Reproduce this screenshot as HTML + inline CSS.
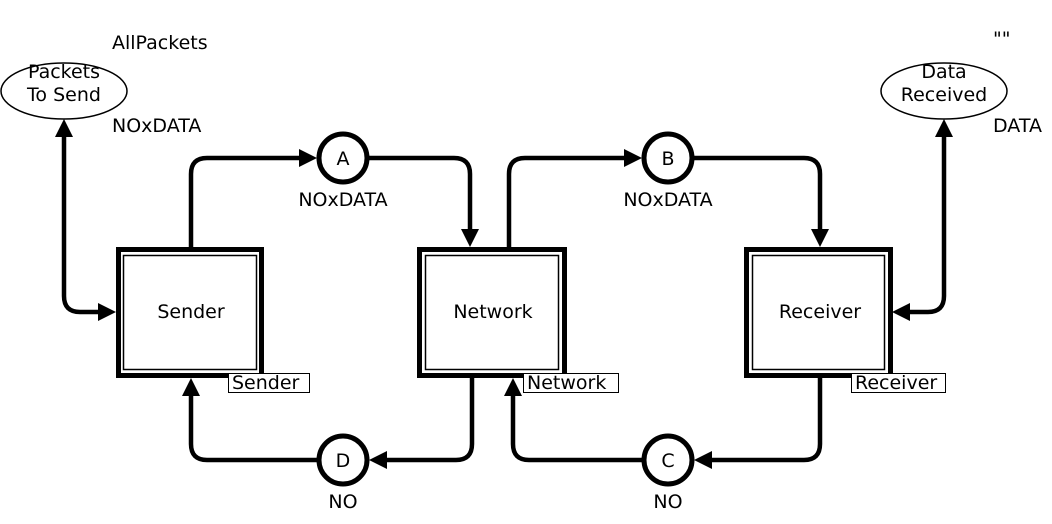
<!DOCTYPE html>
<html><head><meta charset="utf-8"><style>
html,body{margin:0;padding:0;background:#fff;}
svg{display:block;}
text{font-family:"DejaVu Sans","Liberation Sans",sans-serif;font-size:19px;fill:#000;}
</style></head><body>
<svg width="1052" height="524" viewBox="0 0 1052 524" xmlns="http://www.w3.org/2000/svg">
<g fill="none" stroke="#000" stroke-width="4.5">
<path d="M64 134 V296 Q64 312 80 312 H102"/>
<path d="M944 134 V296 Q944 312 928 312 H908"/>
<path d="M191 247 V174 Q191 158 207 158 H302"/>
<path d="M369 158 H454 Q470 158 470 174 V232"/>
<path d="M509 247 V174 Q509 158 525 158 H627"/>
<path d="M694 158 H804 Q820 158 820 174 V232"/>
<path d="M820 378 V444 Q820 460 804 460 H710"/>
<path d="M642 460 H529 Q513 460 513 444 V394"/>
<path d="M472 378 V444 Q472 460 456 460 H385"/>
<path d="M317 460 H207 Q191 460 191 444 V394"/>
</g>
<g fill="#000">
<polygon points="64,119 55,137 73,137"/>
<polygon points="116,312 98,303 98,321"/>
<polygon points="944,119 935,137 953,137"/>
<polygon points="892,312 910,303 910,321"/>
<polygon points="317,158 299,149 299,167"/>
<polygon points="470,247 461,229 479,229"/>
<polygon points="642,158 624,149 624,167"/>
<polygon points="820,247 811,229 829,229"/>
<polygon points="694,460 712,451 712,469"/>
<polygon points="513,378 504,396 522,396"/>
<polygon points="369,460 387,451 387,469"/>
<polygon points="191,378 182,396 200,396"/>
</g>
<g fill="#fff" stroke="#000">
<ellipse cx="64" cy="91" rx="63" ry="28" stroke-width="1.5"/>
<ellipse cx="944" cy="91" rx="63" ry="28" stroke-width="1.5"/>
<circle cx="343" cy="158" r="24" stroke-width="5"/>
<circle cx="668" cy="158" r="24" stroke-width="5"/>
<circle cx="668" cy="460" r="24" stroke-width="5"/>
<circle cx="343" cy="460" r="24" stroke-width="5"/>
</g>
<g fill="#fff" stroke="#000">
<rect x="118.5" y="249.5" width="143" height="126" stroke-width="5"/>
<rect x="123.5" y="255.5" width="133" height="114" stroke-width="1.5"/>
<rect x="419.5" y="249.5" width="145" height="126" stroke-width="5"/>
<rect x="425.5" y="255.5" width="133" height="114" stroke-width="1.5"/>
<rect x="746.5" y="249.5" width="144" height="126" stroke-width="5"/>
<rect x="752.5" y="255.5" width="132" height="114" stroke-width="1.5"/>
<rect x="228.5" y="373.5" width="81" height="19" stroke-width="1"/>
<rect x="523.5" y="373.5" width="95" height="19" stroke-width="1"/>
<rect x="851.5" y="373.5" width="94" height="19" stroke-width="1"/>
</g>
<g text-anchor="middle">
<text x="64" y="78">Packets</text>
<text x="64" y="101">To Send</text>
<text x="944" y="78">Data</text>
<text x="944" y="101">Received</text>
<text x="343" y="165">A</text>
<text x="668" y="165">B</text>
<text x="668" y="467">C</text>
<text x="343" y="467">D</text>
<text x="191" y="318">Sender</text>
<text x="493" y="318">Network</text>
<text x="820" y="318">Receiver</text>
<text x="343" y="206">NOxDATA</text>
<text x="668" y="206">NOxDATA</text>
<text x="343" y="508">NO</text>
<text x="668" y="508">NO</text>
</g>
<text x="112" y="49">AllPackets</text>
<text x="112" y="132">NOxDATA</text>
<text x="993" y="45">""</text>
<text x="993" y="132">DATA</text>
<text x="232" y="389">Sender</text>
<text x="527" y="389">Network</text>
<text x="855" y="389">Receiver</text>
</svg>
</body></html>
